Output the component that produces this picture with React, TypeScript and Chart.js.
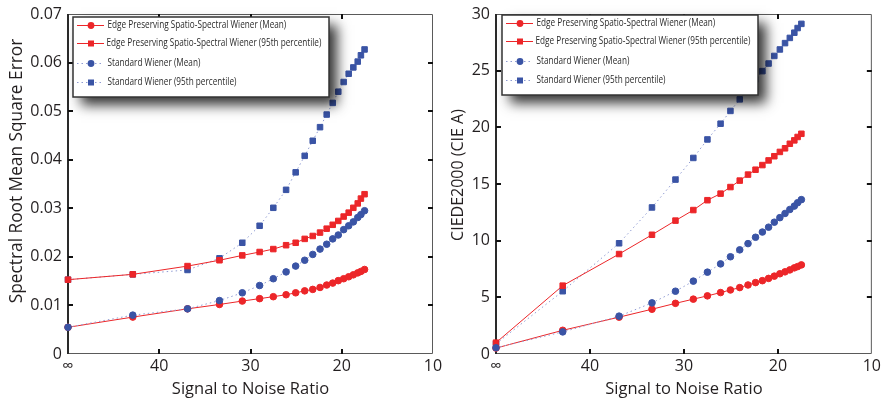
import React, { useEffect, useRef } from 'react';
import { Chart, registerables } from 'chart.js';

Chart.register(...registerables);

// ---------- data ----------
// Signal to Noise Ratio (50 stands for the noise-free "∞" case)
const snr = [50, 42.9, 36.9, 33.4, 30.9, 29.0, 27.5, 26.1, 25.05, 24.06, 23.18, 22.38, 21.65, 20.99, 20.38, 19.79, 19.24, 18.73, 18.25, 17.9, 17.5];

// Left panel: Spectral RMSE
const rmseEpMean = [0.0055, 0.0076, 0.0093, 0.0102, 0.0109, 0.0114, 0.0118, 0.0122, 0.0126, 0.0130, 0.0133, 0.0137, 0.0142, 0.0146, 0.0151, 0.0155, 0.0159, 0.0163, 0.0167, 0.0170, 0.0174];
const rmseEp95 = [0.0153, 0.0164, 0.0181, 0.0193, 0.0203, 0.0210, 0.0216, 0.0224, 0.0229, 0.0237, 0.0243, 0.0250, 0.0258, 0.0266, 0.0274, 0.0283, 0.0291, 0.0301, 0.0310, 0.0320, 0.0329];
const rmseStdMean = [0.0055, 0.0080, 0.0093, 0.0110, 0.0126, 0.0141, 0.0155, 0.0169, 0.0181, 0.0193, 0.0205, 0.0216, 0.0226, 0.0237, 0.0245, 0.0256, 0.0264, 0.0272, 0.0281, 0.0287, 0.0295];
const rmseStd95 = [0.0153, 0.0164, 0.0173, 0.0197, 0.0229, 0.0264, 0.0301, 0.0338, 0.0374, 0.0408, 0.0439, 0.0467, 0.0493, 0.0517, 0.0540, 0.0560, 0.0577, 0.0590, 0.0602, 0.0615, 0.0627];

// Right panel: CIEDE2000
const deEpMean = [0.52, 2.09, 3.25, 3.95, 4.47, 4.84, 5.13, 5.42, 5.65, 5.86, 6.09, 6.30, 6.47, 6.67, 6.87, 7.08, 7.25, 7.42, 7.60, 7.71, 7.86];
const deEp95 = [1.0, 6.03, 8.82, 10.52, 11.77, 12.70, 13.57, 14.15, 14.73, 15.30, 15.83, 16.26, 16.67, 17.08, 17.45, 17.83, 18.15, 18.55, 18.85, 19.15, 19.43];
const deStdMean = [0.55, 1.95, 3.34, 4.51, 5.54, 6.43, 7.22, 7.95, 8.58, 9.19, 9.74, 10.30, 10.76, 11.19, 11.63, 12.03, 12.40, 12.75, 13.05, 13.35, 13.62];
const deStd95 = [0.9, 5.54, 9.77, 12.93, 15.39, 17.30, 18.93, 20.32, 21.45, 22.47, 23.40, 24.23, 24.96, 25.63, 26.30, 26.87, 27.43, 27.89, 28.35, 28.76, 29.13];

const seriesLabels = [
  'Edge Preserving Spatio-Spectral Wiener (Mean)',
  'Edge Preserving Spatio-Spectral Wiener (95th percentile)',
  'Standard Wiener (Mean)',
  'Standard Wiener (95th percentile)',
];
const xTicks = [50, 40, 30, 20, 10];
const xTitle = 'Signal to Noise Ratio';

// ---------- styles ----------
const RED = '#EC2629';
const BLUE = '#3A54A5';
const BLUE_LINE = '#8F9BD2';
const TEXT = '#231F20';
const FONT = '"Open Sans", "DejaVu Sans", sans-serif';

const framePlugin = {
  id: 'frame',
  beforeDatasetsDraw(chart: any) {
    const { ctx, chartArea: a, scales } = chart;
    const opts = chart.options.plugins.frame;
    ctx.save();
    ctx.strokeStyle = '#5a5a5a';
    ctx.lineWidth = 1;
    ctx.beginPath();
    ctx.moveTo(a.left, a.top + 0.5);
    ctx.lineTo(a.right - 0.5, a.top + 0.5);
    ctx.lineTo(a.right - 0.5, a.bottom - 0.5);
    ctx.lineTo(a.left, a.bottom - 0.5);
    ctx.stroke();
    ctx.strokeStyle = '#2a2a2a';
    ctx.lineWidth = 2;
    ctx.beginPath();
    ctx.moveTo(a.left, a.top);
    ctx.lineTo(a.left, a.bottom);
    ctx.stroke();
    // inward ticks
    ctx.strokeStyle = '#111';
    ctx.lineWidth = 2;
    const tl = 5;
    xTicks.forEach((v) => {
      const px = Math.round(scales.x.getPixelForValue(v));
      if (px <= a.left + 2 || px >= a.right - 2) return;
      ctx.beginPath();
      ctx.moveTo(px, a.top);
      ctx.lineTo(px, a.top + tl);
      ctx.moveTo(px, a.bottom);
      ctx.lineTo(px, a.bottom - tl);
      ctx.stroke();
    });
    opts.yTicks.forEach((v: number) => {
      const py = Math.round(scales.y.getPixelForValue(v));
      if (py <= a.top + 2 || py >= a.bottom - 2) return;
      ctx.beginPath();
      ctx.moveTo(a.left, py);
      ctx.lineTo(a.left + tl, py);
      ctx.moveTo(a.right, py);
      ctx.lineTo(a.right - tl, py);
      ctx.stroke();
    });
    ctx.restore();
  },
  afterDatasetsDraw(chart: any) {
    const { ctx } = chart;
    const opts = chart.options.plugins.frame;
    // y-axis title
    const t = opts.yTitle;
    ctx.save();
    ctx.translate(t.x, t.y);
    ctx.rotate(-Math.PI / 2);
    ctx.fillStyle = TEXT;
    ctx.font = t.size + 'px ' + FONT;
    ctx.textAlign = 'center';
    ctx.textBaseline = 'middle';
    ctx.fillText(t.text, 0, 0);
    ctx.restore();
    // legend
    const b = opts.legendBox;
    ctx.save();
    ctx.shadowColor = 'rgba(0,0,0,0.8)';
    ctx.shadowBlur = 12;
    ctx.shadowOffsetX = 8;
    ctx.shadowOffsetY = 8;
    ctx.fillStyle = '#fff';
    ctx.fillRect(b.x, b.y, b.w, b.h);
    ctx.restore();
    ctx.save();
    ctx.strokeStyle = '#333';
    ctx.lineWidth = 1.5;
    ctx.strokeRect(b.x, b.y, b.w, b.h);
    const rows = [8.5, 26.5, 46.5, 65.5];
    const styles = [
      { color: RED, line: RED, dotted: false, shape: 'circle' },
      { color: RED, line: RED, dotted: false, shape: 'rect' },
      { color: BLUE, line: BLUE_LINE, dotted: true, shape: 'circle' },
      { color: BLUE, line: BLUE_LINE, dotted: true, shape: 'rect' },
    ];
    rows.forEach((dy, i) => {
      const y = b.y + dy;
      const s = styles[i];
      ctx.strokeStyle = s.line;
      ctx.lineWidth = 1;
      ctx.setLineDash(s.dotted ? [1.5, 3] : []);
      ctx.beginPath();
      ctx.moveTo(b.x + 4, y);
      ctx.lineTo(b.x + 31, y);
      ctx.stroke();
      ctx.setLineDash([]);
      ctx.fillStyle = s.color;
      const cx = b.x + 18;
      if (s.shape === 'circle') {
        ctx.beginPath();
        ctx.arc(cx, y, 3.4, 0, Math.PI * 2);
        ctx.fill();
      } else {
        ctx.fillRect(cx - 3, y - 3, 6, 6);
      }
      ctx.fillStyle = '#2a2a2a';
      ctx.font = '10px ' + FONT;
      ctx.textBaseline = 'middle';
      ctx.save();
      ctx.translate(b.x + (i === 1 ? 33.5 : 34.5), y);
      ctx.scale(0.82, 1);
      ctx.fillText(seriesLabels[i], 0, 0);
      ctx.restore();
    });
    ctx.restore();
  },
};

function makeDatasets(epMean: number[], ep95: number[], stdMean: number[], std95: number[]) {
  const pts = (arr: number[]) => snr.map((x, i) => ({ x, y: arr[i] }));
  const common = { clip: false as any, pointBorderWidth: 1, tension: 0 };
  return [
    { ...common, label: seriesLabels[2], data: pts(stdMean), borderColor: BLUE_LINE, borderWidth: 1, borderDash: [1.5, 3], pointStyle: 'circle', pointRadius: 3.3, pointBackgroundColor: BLUE, pointBorderColor: BLUE, order: 0 },
    { ...common, label: seriesLabels[1], data: pts(ep95), borderColor: RED, borderWidth: 1, pointStyle: 'rect', pointRadius: 3.9, pointBackgroundColor: RED, pointBorderColor: RED, order: 1 },
    { ...common, label: seriesLabels[0], data: pts(epMean), borderColor: RED, borderWidth: 1, pointStyle: 'circle', pointRadius: 3.3, pointBackgroundColor: RED, pointBorderColor: RED, order: 2 },
    { ...common, label: seriesLabels[3], data: pts(std95), borderColor: BLUE_LINE, borderWidth: 1, borderDash: [1.5, 3], pointStyle: 'rect', pointRadius: 3.9, pointBackgroundColor: BLUE, pointBorderColor: BLUE, order: 3 },
  ];
}

function makeConfig(p: {
  datasets: any[]; yMax: number; yTitle: any; yWidth: number;
  padRight: number; padTop: number; legendBox: any; yFmt: (v: number) => string; yTicks: number[];
}): any {
  return {
    type: 'line',
    data: { datasets: p.datasets },
    plugins: [framePlugin],
    options: {
      animation: false,
      responsive: false,
      maintainAspectRatio: false,
      layout: { padding: { left: 0, right: p.padRight, top: p.padTop, bottom: 0 } },
      plugins: {
        legend: { display: false },
        tooltip: { enabled: false },
        frame: { legendBox: p.legendBox, yTicks: p.yTicks, yTitle: p.yTitle },
      },
      scales: {
        x: {
          type: 'linear', min: 10, max: 50, reverse: true,
          grid: { display: false, drawTicks: false }, border: { display: false },
          afterBuildTicks: (s: any) => { s.ticks = xTicks.map((v) => ({ value: v })); },
          ticks: {
            padding: 4, color: TEXT, maxRotation: 0, autoSkip: false,
            font: { family: FONT, size: 16, lineHeight: 1 },
            callback: (v: any) => (v === 50 ? '∞' : String(v)),
          },
          title: { display: true, text: xTitle, color: TEXT, font: { family: FONT, size: 16.5 }, padding: { top: 0, bottom: 1 } },
          afterFit: (s: any) => { s.height = 46; },
        },
        y: {
          type: 'linear', min: 0, max: p.yMax,
          grid: { display: false, drawTicks: false }, border: { display: false },
          afterBuildTicks: (s: any) => { s.ticks = p.yTicks.map((v) => ({ value: v })); },
          ticks: {
            padding: 6, color: TEXT,
            font: { family: FONT, size: 16, lineHeight: 1 },
            callback: (v: any) => p.yFmt(v),
          },
          title: { display: false },
          afterFit: (s: any) => { s.width = p.yWidth; },
        },
      },
    },
  };
}

const rmseTicks = [0, 0.01, 0.02, 0.03, 0.04, 0.05, 0.06, 0.07];
const deTicks = [0, 5, 10, 15, 20, 25, 30];

export default function App() {
  const leftRef = useRef<HTMLCanvasElement>(null);
  const rightRef = useRef<HTMLCanvasElement>(null);

  useEffect(() => {
    const left = new Chart(leftRef.current as HTMLCanvasElement, makeConfig({
      datasets: makeDatasets(rmseEpMean, rmseEp95, rmseStdMean, rmseStd95),
      yMax: 0.07, yWidth: 68,
      yTitle: { text: 'Spectral Root Mean Square Error', x: 17, y: 171, size: 17.3 },
      padRight: 17, padTop: 9, legendBox: { x: 73, y: 17, w: 256, h: 80 },
      yFmt: (v) => (Math.abs(v) < 1e-9 ? '0' : v.toFixed(2)), yTicks: rmseTicks,
    }));
    const right = new Chart(rightRef.current as HTMLCanvasElement, makeConfig({
      datasets: makeDatasets(deEpMean, deEp95, deStdMean, deStd95),
      yMax: 30, yWidth: 66,
      yTitle: { text: 'CIEDE2000 (CIE A)', x: 28, y: 175, size: 16 },
      padRight: 12, padTop: 8, legendBox: { x: 72, y: 15, w: 256, h: 80 },
      yFmt: (v) => String(Math.round(v)), yTicks: deTicks,
    }));
    return () => { left.destroy(); right.destroy(); };
  }, []);

  return (
    <div style={{ position: 'absolute', left: 0, top: 0, width: 885, height: 400, background: '#fff' }}>
      <canvas ref={leftRef} width={450} height={400} style={{ position: 'absolute', left: 0, top: 0 }} />
      <canvas ref={rightRef} width={455} height={400} style={{ position: 'absolute', left: 430, top: 0 }} />
    </div>
  );
}
